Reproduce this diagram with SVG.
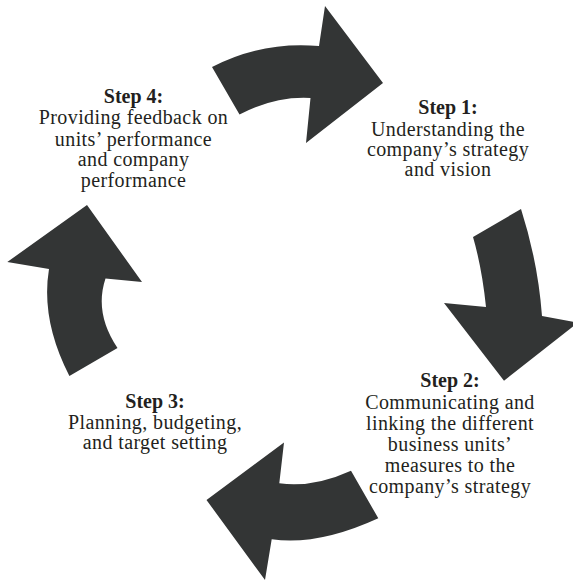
<svg xmlns="http://www.w3.org/2000/svg" width="573" height="582" viewBox="0 0 573 582">
<style>
.arrow{fill:#333535;}
text{font-family:"Liberation Serif","Times New Roman",serif;font-size:20px;fill:#231f20;text-anchor:middle;letter-spacing:0.4px;}
.b{font-weight:bold;letter-spacing:0;}
</style>
<rect width="573" height="582" fill="#ffffff"/>
<g id="connectors">
<path id="arrow-4-1" class="arrow" d="M212,67 Q262,41 319,46 L325,6 L383,83 L306,143 L310.5,98 Q275,96 239.5,114.5 Z"/>
<path id="arrow-1-2" class="arrow" d="M521,209 Q538,262 542,316 L578,322.6 L504,380.7 L444,303 L486,307 Q482,268 473,237 Z"/>
<path id="arrow-2-3" class="arrow" d="M351,470.7 L378.3,518.3 Q318,546 271.7,539.3 L265,580 L206.5,500 L284,442.5 L279.3,483.3 Q313,488 351,470.7 Z"/>
<path id="arrow-3-4" class="arrow" d="M87,205 L142,282 L105.5,278.5 Q94,313 117.5,348 L69.4,376 Q40.6,320 49,269 L7.3,262 Z"/>
</g>
<g id="step1">
<text x="448" y="114.3" class="b">Step 1:</text>
<text x="448" y="135.5">Understanding the</text>
<text x="448" y="155.5">company’s strategy</text>
<text x="448" y="175.5">and vision</text>
</g>
<g id="step2">
<text x="450" y="386.7" class="b">Step 2:</text>
<text x="450" y="409.3">Communicating and</text>
<text x="450" y="430">linking the different</text>
<text x="450" y="450.7">business units’</text>
<text x="450" y="471.7">measures to the</text>
<text x="450" y="492.5">company’s strategy</text>
</g>
<g id="step3">
<text x="155" y="408.3" class="b">Step 3:</text>
<text x="155" y="429.3">Planning, budgeting,</text>
<text x="155" y="449.3">and target setting</text>
</g>
<g id="step4">
<text x="133.5" y="103.3" class="b">Step 4:</text>
<text x="133.5" y="124.3">Providing feedback on</text>
<text x="133.5" y="145.5">units’ performance</text>
<text x="133.5" y="166">and company</text>
<text x="133.5" y="186.7">performance</text>
</g>
</svg>
